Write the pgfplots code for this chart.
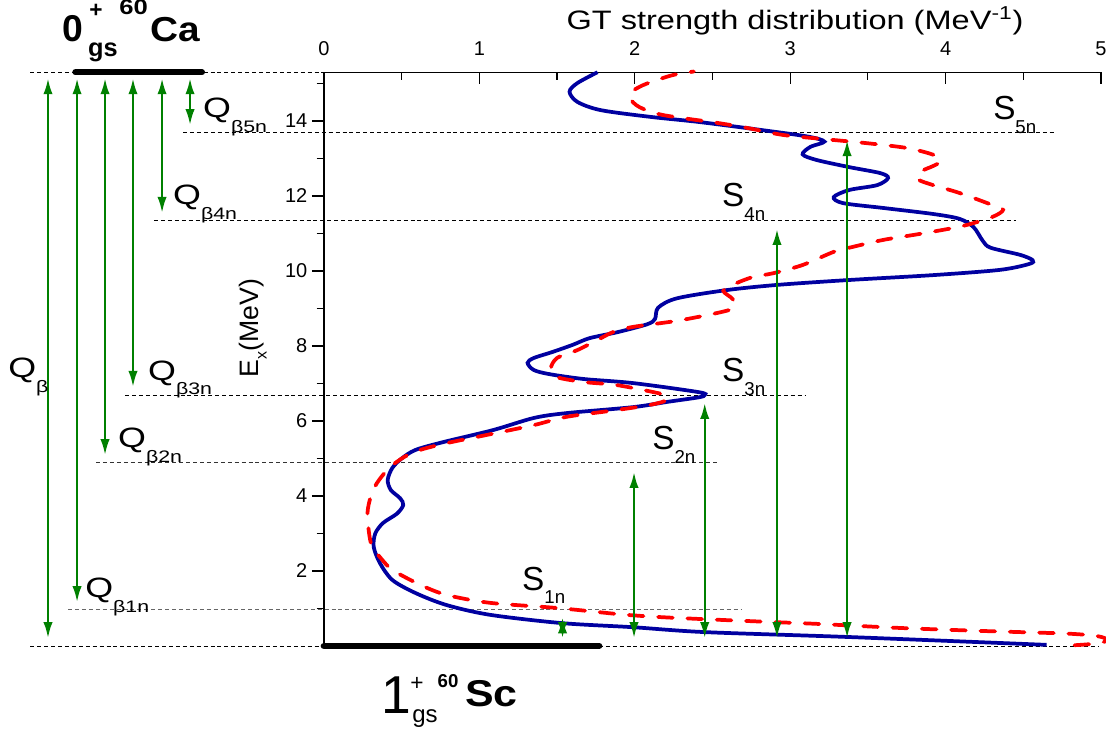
\documentclass[border=0pt]{standalone}
\usepackage{pgfplots}
\pgfplotsset{compat=1.18}
\usepackage{fontspec}
\setmainfont{Liberation Sans}
\usetikzlibrary{arrows.meta}
\definecolor{cblue}{RGB}{0,0,160}
\definecolor{cred}{RGB}{255,0,0}
\definecolor{cgreen}{RGB}{0,128,0}
\newcommand\Qlab[1]{\scalebox{1.28}[1]{\fontsize{21}{21}\selectfont Q\raisebox{-11pt}{\fontsize{12.5}{12.5}\selectfont β#1}}}
\newcommand\Slab[1]{\fontsize{25}{25}\selectfont S\raisebox{-10pt}{\fontsize{14}{14}\selectfont #1}}
\begin{document}
\begin{tikzpicture}[>={Latex[length=12pt,width=7pt]}]
\begin{axis}[
 name=ax,
 scale only axis, width=582.75pt, height=430.3pt,
 xmin=0,xmax=5,ymin=0,ymax=15.3,
 axis x line*=top, axis y line*=left,
 tick align=outside,
 xtick={0,1,2,3,4,5}, minor xtick={0.5,1.5,2.5,3.5,4.5},
 ytick={2,4,6,8,10,12,14}, minor ytick={1,3,5,7,9,11,13,15},
 major tick length=9pt, minor tick length=5.5pt,
 every major x tick/.append style={yshift=-9pt},
 every minor x tick/.append style={yshift=-5.5pt},
 tick style={black, line width=0.9pt},
 axis line style={line width=1.1pt},
 tick label style={font=\fontsize{15}{15}\selectfont},
 /pgf/number format/assume math mode=true,
 clip=false,
]
% reference dashed lines
\addplot[black, line width=0.6pt, dash pattern=on 3pt off 2.2pt] coordinates {(-1.89,15.3) (0,15.3)};
\addplot[black, line width=0.6pt, dash pattern=on 3pt off 2.2pt] coordinates {(-1.89,0) (4.99,0)};
\addplot[black, line width=0.6pt, dash pattern=on 3pt off 2.2pt] coordinates {(-0.907,13.70) (4.70,13.70)};
\addplot[black, line width=0.6pt, dash pattern=on 3pt off 2.2pt] coordinates {(-1.094,11.34) (4.45,11.34)};
\addplot[black, line width=0.6pt, dash pattern=on 3pt off 2.2pt] coordinates {(-1.28,6.675) (3.095,6.675)};
\addplot[black!80, line width=0.6pt, dash pattern=on 3pt off 2.2pt] coordinates {(-1.467,4.90) (2.53,4.90)};
\addplot[black!60, line width=0.6pt, dash pattern=on 3pt off 2.2pt] coordinates {(-1.647,0.98) (2.69,0.98)};
% thick level bars
\addplot[black, line width=4.5pt, line cap=round] coordinates {(-1.60,15.3) (-0.785,15.3)};
\addplot[black, line width=5pt, line cap=round] coordinates {(0,0) (1.77,0)};
% blue curve
\addplot[cblue, line width=2.8pt, smooth, no markers] coordinates {
(4.65,0.03) (3.37,0.24) (2.45,0.37) (1.99,0.50) (1.53,0.61) (1.07,0.83) (0.79,1.09)
(0.59,1.41) (0.44,1.76) (0.36,2.21) (0.32,2.64) (0.33,3.0) (0.38,3.28) (0.47,3.53)
(0.51,3.76) (0.49,3.94) (0.43,4.16) (0.41,4.43) (0.44,4.75) (0.50,5.0) (0.59,5.23)
(0.77,5.44) (1.09,5.76) (1.35,6.08) (1.56,6.21) (1.99,6.37) (2.21,6.51) (2.41,6.63)
(2.45,6.69) (2.41,6.77) (1.99,7.01) (1.67,7.12) (1.45,7.25) (1.35,7.36) (1.31,7.55)
(1.35,7.68) (1.47,7.84) (1.60,8.03) (1.71,8.21) (1.89,8.37) (2.08,8.58) (2.13,8.72)
(2.15,9.02) (2.27,9.27) (2.59,9.49) (2.92,9.63) (3.38,9.76) (3.92,9.89) (4.35,10.03)
(4.54,10.19) (4.56,10.29) (4.48,10.43) (4.29,10.62) (4.24,10.80) (4.18,11.17)
(4.09,11.39) (3.92,11.52) (3.60,11.68) (3.34,11.81) (3.28,11.97) (3.38,12.16)
(3.56,12.29) (3.63,12.48) (3.58,12.61) (3.38,12.77) (3.17,12.96) (3.08,13.11)
(3.13,13.31) (3.22,13.45) (3.12,13.58) (2.85,13.74) (2.42,13.97) (2.10,14.11)
(1.78,14.29) (1.63,14.51) (1.58,14.78) (1.63,15.01) (1.76,15.3)
};
% red dashed curve
\addplot[cred, line width=2.8pt, smooth, no markers, line cap=round, dash pattern=on 11pt off 11pt] coordinates {
(4.83,0.02) (4.98,0.07) (5.04,0.16) (4.98,0.26) (4.78,0.33) (4.24,0.40) (3.71,0.48)
(3.17,0.59) (2.70,0.67) (2.21,0.76) (1.92,0.84) (1.51,1.01) (1.07,1.15) (0.79,1.36)
(0.62,1.63) (0.44,2.03) (0.36,2.37) (0.31,2.64) (0.29,3.01) (0.28,3.55) (0.30,3.97)
(0.34,4.34) (0.42,4.75) (0.52,5.05) (0.62,5.23) (0.79,5.41) (1.05,5.63) (1.35,5.89)
(1.56,6.11) (1.88,6.29) (2.10,6.43) (2.21,6.56) (2.20,6.68) (2.12,6.77) (1.88,6.96)
(1.67,7.04) (1.50,7.17) (1.46,7.40) (1.50,7.68) (1.63,7.89) (1.76,8.16) (1.86,8.37)
(1.99,8.51) (2.27,8.67) (2.53,8.88) (2.64,9.02) (2.63,9.25) (2.57,9.47) (2.64,9.65)
(2.76,9.84) (2.89,9.94) (3.08,10.16) (3.28,10.51) (3.40,10.64) (3.60,10.83)
(3.85,11.0) (4.11,11.2) (4.30,11.44) (4.37,11.63) (4.30,11.76) (4.09,12.08)
(3.92,12.29) (3.82,12.45) (3.84,12.65) (3.92,12.80) (3.97,12.93) (3.92,13.10)
(3.75,13.28) (3.49,13.41) (3.21,13.52) (2.95,13.63) (2.73,13.81) (2.53,13.95)
(2.18,14.16) (2.03,14.37) (1.97,14.60) (1.98,14.78) (2.05,14.95) (2.14,15.09)
(2.25,15.23) (2.38,15.32)
};
% green arrows (left)
\addplot[cgreen, line width=1.8pt, <->, no markers] coordinates {(-1.776,15.14) (-1.776,0.21)};
\addplot[cgreen, line width=1.8pt, <->, no markers] coordinates {(-1.589,15.14) (-1.589,1.17)};
\addplot[cgreen, line width=1.8pt, <->, no markers] coordinates {(-1.409,15.14) (-1.409,5.09)};
\addplot[cgreen, line width=1.8pt, <->, no markers] coordinates {(-1.229,15.14) (-1.229,6.91)};
\addplot[cgreen, line width=1.8pt, <->, no markers] coordinates {(-1.042,15.14) (-1.042,11.55)};
\addplot[cgreen, line width=1.8pt, <->, no markers] coordinates {(-0.862,15.14) (-0.862,13.89)};
% green arrows (right)
\addplot[cgreen, line width=1.8pt, <->, no markers] coordinates {(1.535,0.21) (1.535,0.76)};
\addplot[cgreen, line width=1.8pt, <->, no markers] coordinates {(1.995,0.21) (1.995,4.64)};
\addplot[cgreen, line width=1.8pt, <->, no markers] coordinates {(2.45,0.21) (2.45,6.48)};
\addplot[cgreen, line width=1.8pt, <->, no markers] coordinates {(2.915,0.21) (2.915,11.12)};
\addplot[cgreen, line width=1.8pt, <->, no markers] coordinates {(3.366,0.21) (3.366,13.49)};
% labels
\node[anchor=base west, inner sep=0] at (axis cs:-0.779,14.08) {\Qlab{5n}};
\node[anchor=base west, inner sep=0] at (axis cs:-0.972,11.76) {\Qlab{4n}};
\node[anchor=base west, inner sep=0] at (axis cs:-1.133,7.09) {\Qlab{3n}};
\node[anchor=base west, inner sep=0] at (axis cs:-1.326,5.28) {\Qlab{2n}};
\node[anchor=base west, inner sep=0] at (axis cs:-1.538,1.28) {\Qlab{1n}};
\node[anchor=base west, inner sep=0] at (axis cs:-2.033,7.15) {\Qlab{}};
\node[anchor=base west, inner sep=0] at (axis cs:4.305,14.03) {\Slab{5n}};
\node[anchor=base west, inner sep=0] at (axis cs:2.561,11.71) {\Slab{4n}};
\node[anchor=base west, inner sep=0] at (axis cs:2.561,7.04) {\Slab{3n}};
\node[anchor=base west, inner sep=0] at (axis cs:2.111,5.23) {\Slab{2n}};
\node[anchor=base west, inner sep=0] at (axis cs:1.274,1.49) {\Slab{1n}};
% 60Ca label
\node[anchor=base west, inner sep=0] at (axis cs:-1.686,16.107) {\fontsize{28}{28}\selectfont\bfseries 0};
\node[anchor=center, inner sep=0] at (axis cs:-1.467,16.93) {\fontsize{17}{17}\selectfont\bfseries +};
\node[anchor=base west, inner sep=0] at (axis cs:-1.519,15.707) {\fontsize{19}{19}\selectfont\bfseries gs};
\node[anchor=base west, inner sep=0] at (axis cs:-1.319,16.827) {\scalebox{1.2}[1]{\fontsize{16}{16}\selectfont\bfseries 60}};
\node[anchor=base west, inner sep=0] at (axis cs:-1.120,16.107) {\scalebox{1.12}[1]{\fontsize{26}{26}\selectfont\bfseries Ca}};
% 60Sc label (one node)
\node[anchor=base west, inner sep=0] at (axis cs:0.367,-1.813) {%
\makebox[21.75pt][l]{\fontsize{40}{40}\selectfont 1}%
\rlap{\raisebox{17.25pt}{\fontsize{17}{17}\selectfont +}}%
\hspace{1.5pt}\raisebox{-6.75pt}{\fontsize{18}{18}\selectfont gs}%
\raisebox{19.5pt}{\fontsize{14}{14}\selectfont\bfseries 60}%
\hspace{5pt}\raisebox{5.25pt}{\scalebox{1.15}[1]{\fontsize{28}{28}\selectfont\bfseries Sc}}};
% axis titles
\node[anchor=base, inner sep=0] at (axis cs:3.031,16.427) {\scalebox{1.22}[1]{\fontsize{20}{20}\selectfont GT strength distribution (MeV\textsuperscript{-1})}};
\node[rotate=90, anchor=center, inner sep=0] at (axis cs:-0.457,8.48) {\fontsize{20}{20}\selectfont E\raisebox{-6pt}{\fontsize{12}{12}\selectfont x}(MeV)};
\coordinate (pbl) at (axis cs:-2.0849,-2.32);
\coordinate (ptr) at (axis cs:5.0322,17.2267);
\end{axis}
\pgfresetboundingbox
\path (pbl) rectangle (ptr);
\end{tikzpicture}
\end{document}
